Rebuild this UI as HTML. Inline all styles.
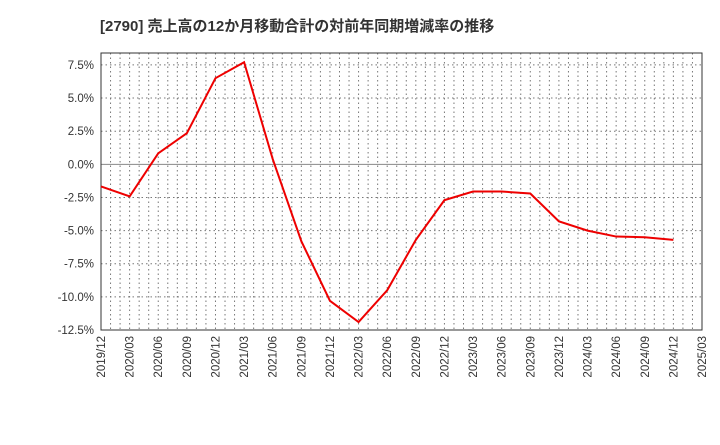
<!DOCTYPE html>
<html><head><meta charset="utf-8"><style>
body{margin:0;background:#fff;}
svg text{font-family:"Liberation Sans","Noto Sans CJK JP",sans-serif;}
</style></head><body>
<svg id="c" width="720" height="440" xmlns="http://www.w3.org/2000/svg">
<text x="100" y="31" font-size="15" font-weight="bold" fill="#333">[2790]  売上高の12か月移動合計の対前年同期増減率の推移</text>
<g id="grid"></g><g id="axes"></g><g id="series"></g>
</svg>
<script>
const categories=["2019/12","2020/03","2020/06","2020/09","2020/12","2021/03","2021/06","2021/09","2021/12","2022/03","2022/06","2022/09","2022/12","2023/03","2023/06","2023/09","2023/12","2024/03","2024/06","2024/09","2024/12"];
const xTickLabels=["2019/12","2020/03","2020/06","2020/09","2020/12","2021/03","2021/06","2021/09","2021/12","2022/03","2022/06","2022/09","2022/12","2023/03","2023/06","2023/09","2023/12","2024/03","2024/06","2024/09","2024/12","2025/03"];
const values=[-1.67,-2.42,0.83,2.35,6.5,7.7,0.4,-5.8,-10.3,-11.9,-9.5,-5.7,-2.7,-2.05,-2.05,-2.2,-4.3,-5.0,-5.45,-5.5,-5.7];
const yTicks=[7.5,5.0,2.5,0.0,-2.5,-5.0,-7.5,-10.0,-12.5];
const yTickLabels=["7.5%","5.0%","2.5%","0.0%","-2.5%","-5.0%","-7.5%","-10.0%","-12.5%"];
const L=101,R=702,T=53,B=330,yMin=-12.5,yMax=8.4;
const NS="http://www.w3.org/2000/svg";
const n=xTickLabels.length-1;
function x(i){return L+(R-L)*i/n;}
function y(v){return B-(v-yMin)/(yMax-yMin)*(B-T);}
function mk(t,a,p){const e=document.createElementNS(NS,t);for(const k in a)e.setAttribute(k,a[k]);p.appendChild(e);return e;}
const g=document.getElementById('grid'),ax=document.getElementById('axes'),s=document.getElementById('series');
for(let m=1;m<n*3;m++){const xx=L+(R-L)*m/(n*3);
const ln=mk('line',{x1:xx,x2:xx,y1:T,y2:B,stroke:'#777','stroke-dasharray':'1.5,3','stroke-width':1},g);

}
yTicks.forEach((v,i)=>{const yy=y(v);
const ln=mk('line',{x1:L,x2:R,y1:yy,y2:yy,stroke:v===0?'#888':'#777','stroke-dasharray':v===0?'':'1.5,3','stroke-width':1},g);


const t=mk('text',{x:L-7,y:yy+4,'text-anchor':'end','font-size':11.5,fill:'#333'},ax);t.textContent=yTickLabels[i];

});
xTickLabels.forEach((lab,i)=>{const xx=x(i);
const t=mk('text',{transform:`translate(${xx+4},${B+6}) rotate(-90)`,'text-anchor':'end','font-size':11.5,fill:'#333'},ax);t.textContent=lab;

});
const fr=mk('rect',{x:L,y:T,width:R-L,height:B-T,fill:'none',stroke:'#333','stroke-width':1},ax);


const pl=mk('polyline',{points:values.map((v,i)=>x(i)+','+y(v)).join(' '),fill:'none',stroke:'#ee0000','stroke-width':2},s);


</script>
</body></html>
